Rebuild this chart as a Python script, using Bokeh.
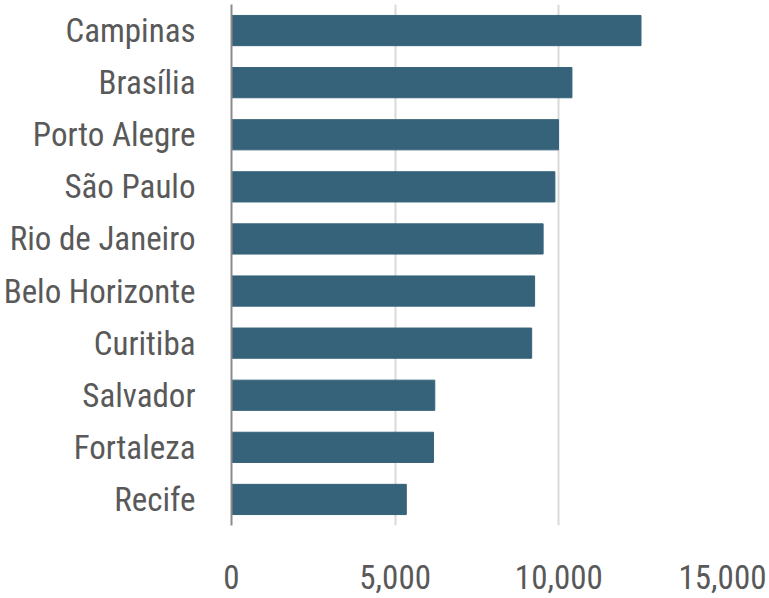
from bokeh.plotting import figure
from bokeh.models import FactorRange, Range1d, FixedTicker, NumeralTickFormatter
from bokeh.embed import file_html
from bokeh.resources import INLINE

cities = ["Campinas", "Brasília", "Porto Alegre", "São Paulo", "Rio de Janeiro",
          "Belo Horizonte", "Curitiba", "Salvador", "Fortaleza", "Recife"]
values = [12510, 10400, 9990, 9880, 9520, 9260, 9170, 6210, 6170, 5340]
x_ticks = [0, 5000, 10000, 15000]

FONT = "Roboto Condensed"
TEXT = "#595959"

p = figure(width=769, height=598,
           y_range=FactorRange(*reversed(cities)),
           x_range=Range1d(0, 15000),
           output_backend="svg", toolbar_location=None,
           min_border_left=230, min_border_right=47,
           min_border_top=4, min_border_bottom=73)
p.outline_line_color = None
p.background_fill_color = "white"
p.border_fill_color = "white"

p.hbar(y=cities, right=values, left=0, height=0.58,
       fill_color="#36637A", line_color="#36637A")

p.xaxis.ticker = FixedTicker(ticks=x_ticks)
p.xaxis.formatter = NumeralTickFormatter(format="0,0")
p.xaxis.axis_line_color = None
p.xaxis.major_tick_line_color = None
p.xaxis.minor_tick_line_color = None
p.xaxis.major_label_text_font = FONT
p.xaxis.major_label_text_font_size = "33px"
p.xaxis.major_label_text_color = TEXT
p.xaxis.major_label_standoff = 33

p.yaxis.axis_line_color = "#8c8c8c"
p.yaxis.axis_line_width = 2
p.yaxis.major_tick_line_color = None
p.yaxis.minor_tick_line_color = None
p.yaxis.major_label_text_font = FONT
p.yaxis.major_label_text_font_size = "33px"
p.yaxis.major_label_text_color = TEXT
p.yaxis.major_label_standoff = 30

p.xgrid.grid_line_color = "#d9d9d9"
p.xgrid.grid_line_width = 2
p.ygrid.grid_line_color = None

open("out.html", "w").write(file_html(p, INLINE))
